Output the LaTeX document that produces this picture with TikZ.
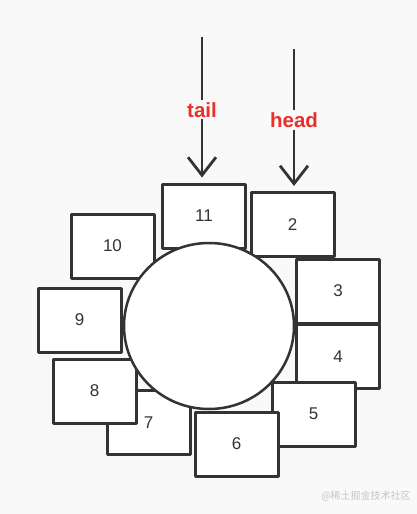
\documentclass[tikz,border=0pt]{standalone}
\usepackage{fontspec}
\setmainfont{Liberation Sans}
\newfontfamily\cjk{Noto Sans CJK SC}
\usetikzlibrary{arrows.meta,shapes.geometric}
\definecolor{ink}{HTML}{333333}
\definecolor{ptrred}{HTML}{E8302A}
\definecolor{paper}{HTML}{F9F9F9}

\begin{document}
\begin{tikzpicture}[x=1pt, y=-1pt, line join=round,
    slot/.style={draw=ink, fill=white, line width=3pt, rectangle,
                 minimum width=83pt, minimum height=64pt, inner sep=0pt,
                 font=\fontsize{17}{20}\selectfont, text=ink},
    ptr/.style={draw=ink, line width=2.8pt,
                -{Straight Barb[length=18pt,width=28pt,line width=2.8pt]},
                shorten >=5pt},
    ptrlabel/.style={fill=paper, text=ptrred, inner sep=2pt,
                     font=\fontsize{20.5}{24}\selectfont\bfseries}]

  %--- fondo ---
  \fill[paper] (0,0) rectangle (417,514);
  \useasboundingbox (0,0) rectangle (417,514);

  %--- ranuras (de abajo hacia arriba) ---
  \node[slot] (s7)  at (148.5,422.5) {7};
  \node[slot] (s8)  at (94.5,391)    {8};
  \node[slot] (s9)  at (79.5,320)    {9};
  \node[slot] (s10) at (112.5,246)   {10};
  \node[slot] (s11) at (204,216)     {11};
  \node[slot] (s2)  at (292.5,224.5) {2};
  \node[slot] (s3)  at (338,291)     {3};
  \node[slot] (s4)  at (338,356.5)   {4};
  \node[slot] (s5)  at (313.5,414)   {5};
  \node[slot] (s6)  at (236.5,444)   {6};

  %--- anillo central ---
  \node[ellipse, draw=ink, fill=white, line width=2.5pt,
        minimum width=170pt, minimum height=166pt] (ring) at (209,326) {};

  %--- punteros ---
  \coordinate (tailtop) at (202,37);
  \coordinate (headtop) at (294,49);
  \draw[ptr] (tailtop) -- (tailtop |- s11.north)
      node[midway, ptrlabel] (tail) {tail};
  \draw[ptr] (headtop) -- (headtop |- s2.north)
      node[midway, ptrlabel] (head) {head};

  %--- marca de agua ---
  \node[text=gray!45, font=\cjk\fontsize{10}{12}\selectfont] (wm)
      at (366,496) {@稀土掘金技术社区};

\end{tikzpicture}
\end{document}
